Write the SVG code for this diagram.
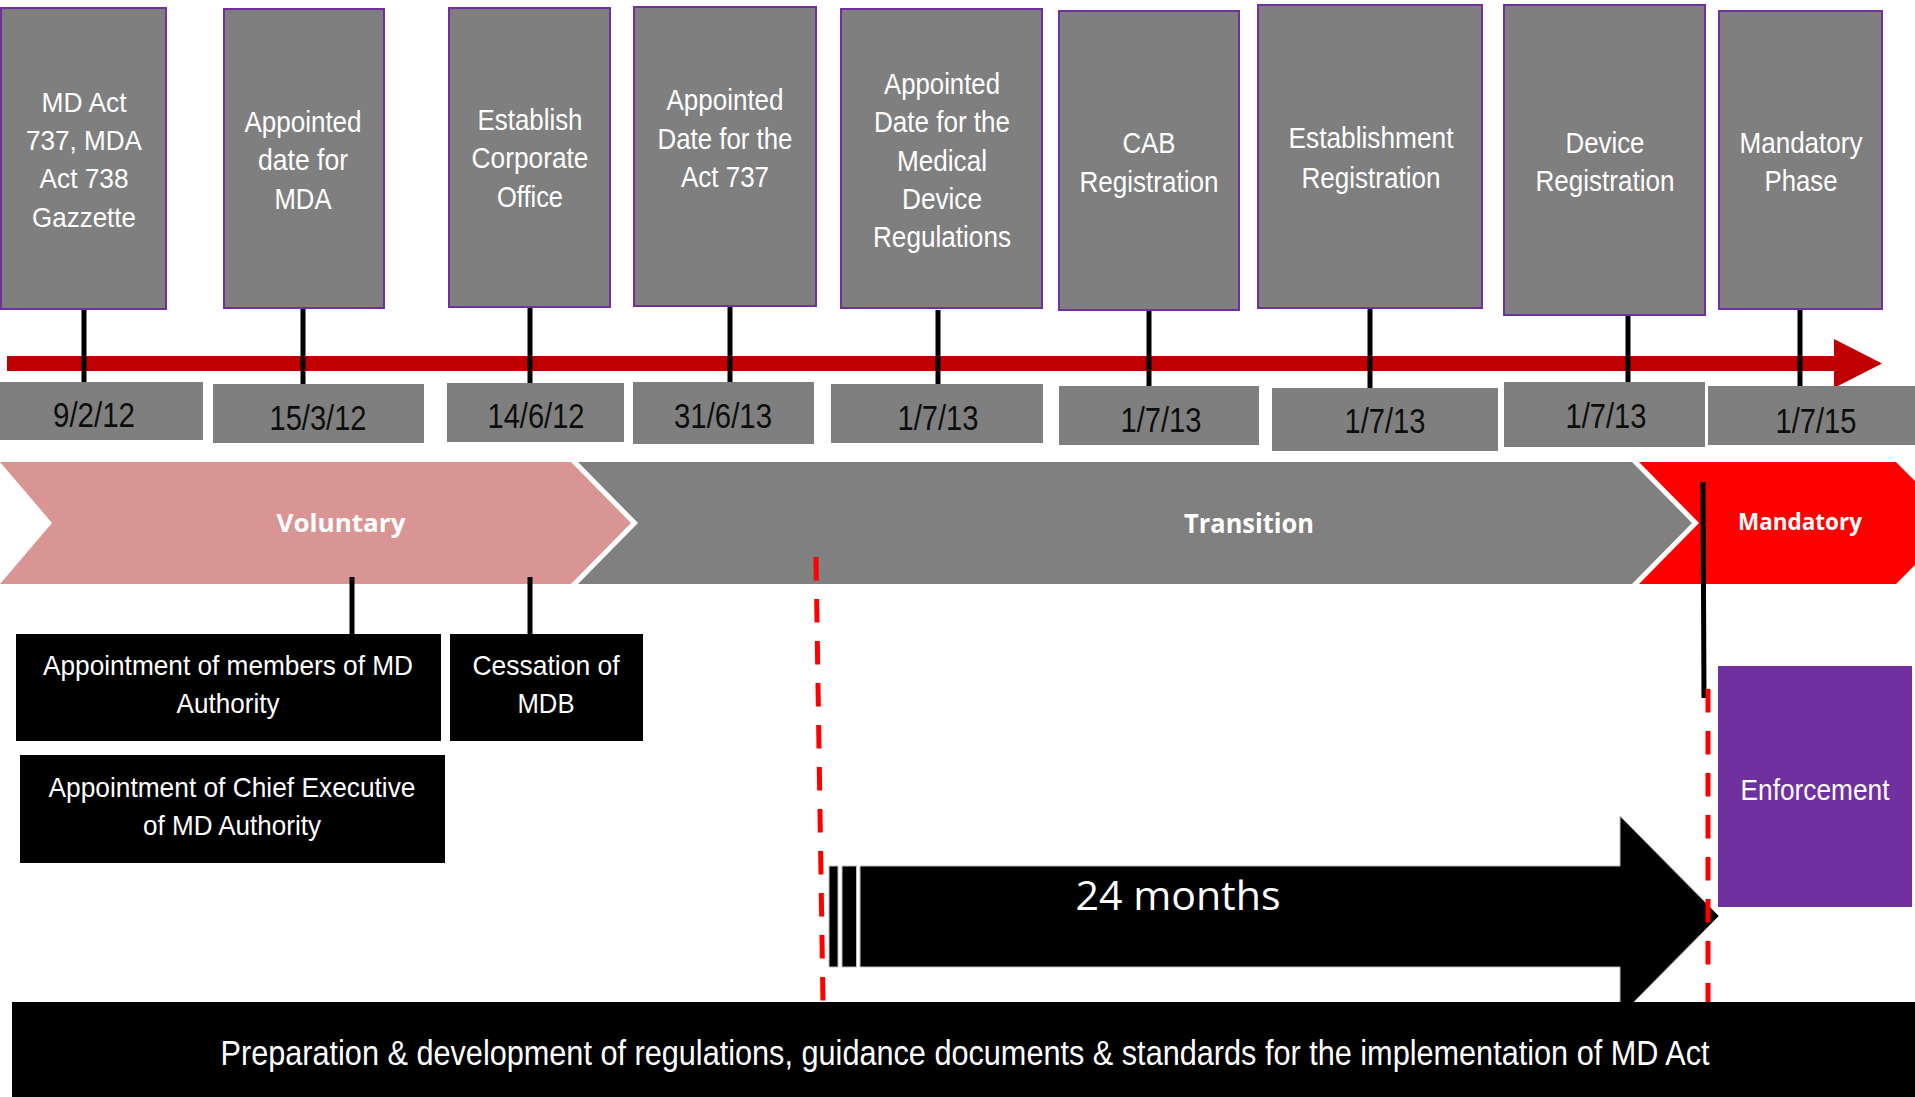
<svg xmlns="http://www.w3.org/2000/svg" width="1915" height="1097" viewBox="0 0 1915 1097">
  <defs>
    <style>
      .milestone { fill: #7F7F7F; stroke: #7030A0; stroke-width: 2; }
      .datebox { fill: #7F7F7F; }
      .note { fill: #000000; }
      .stem { stroke: #000000; stroke-width: 5; }
      .narrow { font-family: "Liberation Sans Narrow", "Liberation Sans", Arial, sans-serif; text-anchor: middle; }
      .lbl { fill: #FFFFFF; font-size: 30px; }
      .lbl28 { fill: #FFFFFF; font-size: 28px; }
      .banner { fill: #FFFFFF; font-size: 35px; }
      .date { fill: #0D0D0D; font-size: 35px; }
      .phase { font-family: "Open Sans", "Liberation Sans", sans-serif; font-weight: bold; fill: #FFFFFF; text-anchor: middle; }
      .dash { stroke: #FF0000; stroke-width: 5; stroke-dasharray: 23.5 18.5; fill: none; }
    </style>
  </defs>

  <rect width="1915" height="1097" fill="#FFFFFF"/>

  <!-- timeline axis -->
  <g id="timeline-axis">
    <rect x="7" y="356" width="1829" height="15" fill="#C00000"/>
    <polygon points="1834,339 1882,363.5 1834,388" fill="#C00000"/>
  </g>

  <!-- phase chevrons -->
  <g id="phase-voluntary">
    <polygon points="0,462 571,462 631,523 571,584 0,584 52,523" fill="#D99594"/>
    <text class="phase" x="341" y="532" font-size="25" textLength="129" lengthAdjust="spacingAndGlyphs">Voluntary</text>
  </g>
  <g id="phase-transition">
    <polygon points="578,462 1632,462 1692,523 1632,584 578,584 638,523" fill="#808080"/>
    <text class="phase" x="1249" y="533" font-size="26" textLength="130" lengthAdjust="spacingAndGlyphs">Transition</text>
  </g>
  <g id="phase-mandatory">
    <polygon points="1639,462 1896,462 1957,523 1896,584 1639,584 1699,523" fill="#FF0000"/>
    <text class="phase" x="1800" y="530" font-size="23" textLength="124" lengthAdjust="spacingAndGlyphs">Mandatory</text>
  </g>

  <!-- connectors -->
  <g id="connectors">
    <line class="stem" x1="84" y1="309" x2="84" y2="382"/>
    <line class="stem" x1="303" y1="308" x2="303" y2="384"/>
    <line class="stem" x1="530" y1="307" x2="530" y2="383"/>
    <line class="stem" x1="730" y1="306" x2="730" y2="382"/>
    <line class="stem" x1="938" y1="310" x2="938" y2="384"/>
    <line class="stem" x1="1149" y1="310" x2="1149" y2="386"/>
    <line class="stem" x1="1370" y1="308" x2="1370" y2="388"/>
    <line class="stem" x1="1628" y1="315" x2="1628" y2="382"/>
    <line class="stem" x1="1800" y1="309" x2="1800" y2="386"/>
    <line class="stem" x1="352" y1="577" x2="352" y2="634"/>
    <line class="stem" x1="530" y1="577" x2="530" y2="634"/>
    <line class="stem" x1="1703" y1="482" x2="1704" y2="698"/>
  </g>

  <!-- milestone boxes -->
  <g id="m1">
    <rect class="milestone" x="1" y="8" width="165" height="301"/>
    <text class="narrow lbl28" x="84" y="112" textLength="85" lengthAdjust="spacingAndGlyphs">MD Act</text>
    <text class="narrow lbl28" x="84" y="150" textLength="116" lengthAdjust="spacingAndGlyphs">737, MDA</text>
    <text class="narrow lbl28" x="84" y="188" textLength="89" lengthAdjust="spacingAndGlyphs">Act 738</text>
    <text class="narrow lbl28" x="84" y="227" textLength="104" lengthAdjust="spacingAndGlyphs">Gazzette</text>
  </g>
  <g id="m2">
    <rect class="milestone" x="224" y="9" width="160" height="299"/>
    <text class="narrow lbl" x="303" y="132" textLength="117" lengthAdjust="spacingAndGlyphs">Appointed</text>
    <text class="narrow lbl" x="303" y="170" textLength="90" lengthAdjust="spacingAndGlyphs">date for</text>
    <text class="narrow lbl" x="303" y="209" textLength="57" lengthAdjust="spacingAndGlyphs">MDA</text>
  </g>
  <g id="m3">
    <rect class="milestone" x="449" y="8" width="161" height="299"/>
    <text class="narrow lbl" x="530" y="130" textLength="105" lengthAdjust="spacingAndGlyphs">Establish</text>
    <text class="narrow lbl" x="530" y="168" textLength="117" lengthAdjust="spacingAndGlyphs">Corporate</text>
    <text class="narrow lbl" x="530" y="207" textLength="66" lengthAdjust="spacingAndGlyphs">Office</text>
  </g>
  <g id="m4">
    <rect class="milestone" x="634" y="7" width="182" height="299"/>
    <text class="narrow lbl" x="725" y="110" textLength="117" lengthAdjust="spacingAndGlyphs">Appointed</text>
    <text class="narrow lbl" x="725" y="149" textLength="135" lengthAdjust="spacingAndGlyphs">Date for the</text>
    <text class="narrow lbl" x="725" y="187" textLength="88" lengthAdjust="spacingAndGlyphs">Act 737</text>
  </g>
  <g id="m5">
    <rect class="milestone" x="841" y="9" width="201" height="299"/>
    <text class="narrow lbl" x="942" y="94" textLength="116" lengthAdjust="spacingAndGlyphs">Appointed</text>
    <text class="narrow lbl" x="942" y="132" textLength="136" lengthAdjust="spacingAndGlyphs">Date for the</text>
    <text class="narrow lbl" x="942" y="171" textLength="90" lengthAdjust="spacingAndGlyphs">Medical</text>
    <text class="narrow lbl" x="942" y="209" textLength="80" lengthAdjust="spacingAndGlyphs">Device</text>
    <text class="narrow lbl" x="942" y="247" textLength="138" lengthAdjust="spacingAndGlyphs">Regulations</text>
  </g>
  <g id="m6">
    <rect class="milestone" x="1059" y="11" width="180" height="299"/>
    <text class="narrow lbl" x="1149" y="153" textLength="53" lengthAdjust="spacingAndGlyphs">CAB</text>
    <text class="narrow lbl" x="1149" y="192" textLength="139" lengthAdjust="spacingAndGlyphs">Registration</text>
  </g>
  <g id="m7">
    <rect class="milestone" x="1258" y="5" width="224" height="303"/>
    <text class="narrow lbl" x="1371" y="148" textLength="165" lengthAdjust="spacingAndGlyphs">Establishment</text>
    <text class="narrow lbl" x="1371" y="188" textLength="139" lengthAdjust="spacingAndGlyphs">Registration</text>
  </g>
  <g id="m8">
    <rect class="milestone" x="1504" y="5" width="201" height="310"/>
    <text class="narrow lbl" x="1605" y="153" textLength="79" lengthAdjust="spacingAndGlyphs">Device</text>
    <text class="narrow lbl" x="1605" y="191" textLength="139" lengthAdjust="spacingAndGlyphs">Registration</text>
  </g>
  <g id="m9">
    <rect class="milestone" x="1719" y="11" width="163" height="298"/>
    <text class="narrow lbl" x="1801" y="153" textLength="123" lengthAdjust="spacingAndGlyphs">Mandatory</text>
    <text class="narrow lbl" x="1801" y="191" textLength="73" lengthAdjust="spacingAndGlyphs">Phase</text>
  </g>

  <!-- date tags -->
  <g id="d1"><rect class="datebox" x="0" y="382" width="203" height="58"/><text class="narrow date" x="94" y="427" textLength="82" lengthAdjust="spacingAndGlyphs">9/2/12</text></g>
  <g id="d2"><rect class="datebox" x="213" y="384" width="211" height="59"/><text class="narrow date" x="318" y="430" textLength="97" lengthAdjust="spacingAndGlyphs">15/3/12</text></g>
  <g id="d3"><rect class="datebox" x="447" y="383" width="177" height="59"/><text class="narrow date" x="536" y="428" textLength="97" lengthAdjust="spacingAndGlyphs">14/6/12</text></g>
  <g id="d4"><rect class="datebox" x="633" y="382" width="181" height="62"/><text class="narrow date" x="723" y="428" textLength="98" lengthAdjust="spacingAndGlyphs">31/6/13</text></g>
  <g id="d5"><rect class="datebox" x="831" y="384" width="212" height="59"/><text class="narrow date" x="938" y="430" textLength="81" lengthAdjust="spacingAndGlyphs">1/7/13</text></g>
  <g id="d6"><rect class="datebox" x="1059" y="386" width="200" height="59"/><text class="narrow date" x="1161" y="432" textLength="81" lengthAdjust="spacingAndGlyphs">1/7/13</text></g>
  <g id="d7"><rect class="datebox" x="1272" y="388" width="226" height="63"/><text class="narrow date" x="1385" y="433" textLength="81" lengthAdjust="spacingAndGlyphs">1/7/13</text></g>
  <g id="d8"><rect class="datebox" x="1504" y="382" width="201" height="65"/><text class="narrow date" x="1606" y="428" textLength="81" lengthAdjust="spacingAndGlyphs">1/7/13</text></g>
  <g id="d9"><rect class="datebox" x="1708" y="386" width="207" height="59"/><text class="narrow date" x="1816" y="433" textLength="81" lengthAdjust="spacingAndGlyphs">1/7/15</text></g>

  <!-- voluntary-phase activities -->
  <g id="members">
    <rect class="note" x="16" y="634" width="425" height="107"/>
    <text class="narrow lbl28" x="228" y="675" textLength="370" lengthAdjust="spacingAndGlyphs">Appointment of members of MD</text>
    <text class="narrow lbl28" x="228" y="713" textLength="103" lengthAdjust="spacingAndGlyphs">Authority</text>
  </g>
  <g id="cessation">
    <rect class="note" x="450" y="634" width="193" height="107"/>
    <text class="narrow lbl28" x="546" y="675" textLength="147" lengthAdjust="spacingAndGlyphs">Cessation of</text>
    <text class="narrow lbl28" x="546" y="713" textLength="57" lengthAdjust="spacingAndGlyphs">MDB</text>
  </g>
  <g id="chief-executive">
    <rect class="note" x="20" y="755" width="425" height="108"/>
    <text class="narrow lbl28" x="232" y="797" textLength="367" lengthAdjust="spacingAndGlyphs">Appointment of Chief Executive</text>
    <text class="narrow lbl28" x="232" y="835" textLength="178" lengthAdjust="spacingAndGlyphs">of MD Authority</text>
  </g>

  <!-- enforcement -->
  <g id="enforcement">
    <rect x="1718" y="666" width="194" height="241" fill="#7030A0"/>
    <text class="narrow lbl" x="1815" y="800" textLength="149" lengthAdjust="spacingAndGlyphs">Enforcement</text>
  </g>

  <!-- 24 month striped arrow -->
  <g id="transition-period" stroke="#BFBFBF" stroke-width="1">
    <rect x="829" y="866" width="9" height="101" fill="#000000"/>
    <rect x="842" y="866" width="14.5" height="101" fill="#000000"/>
    <polygon points="860,866 1620,866 1620,816 1719,916 1620,1016 1620,967 860,967" fill="#000000"/>
    <text x="1178" y="910" font-family="'Open Sans', 'Liberation Sans', sans-serif" font-size="41" fill="#FFFFFF" stroke="none" text-anchor="middle" textLength="205" lengthAdjust="spacingAndGlyphs">24 months</text>
  </g>

  <!-- preparation banner -->
  <g id="preparation">
    <rect x="12" y="1002" width="1903" height="95" fill="#000000"/>
    <text class="narrow banner" x="965" y="1065" textLength="1489" lengthAdjust="spacingAndGlyphs">Preparation &amp; development of regulations, guidance documents &amp; standards for the implementation of MD Act</text>
  </g>

  <!-- phase boundary markers -->
  <g id="boundaries">
    <line class="dash" x1="816" y1="557" x2="823" y2="1002"/>
    <line class="dash" x1="1708" y1="689" x2="1708" y2="1002"/>
  </g>
</svg>
